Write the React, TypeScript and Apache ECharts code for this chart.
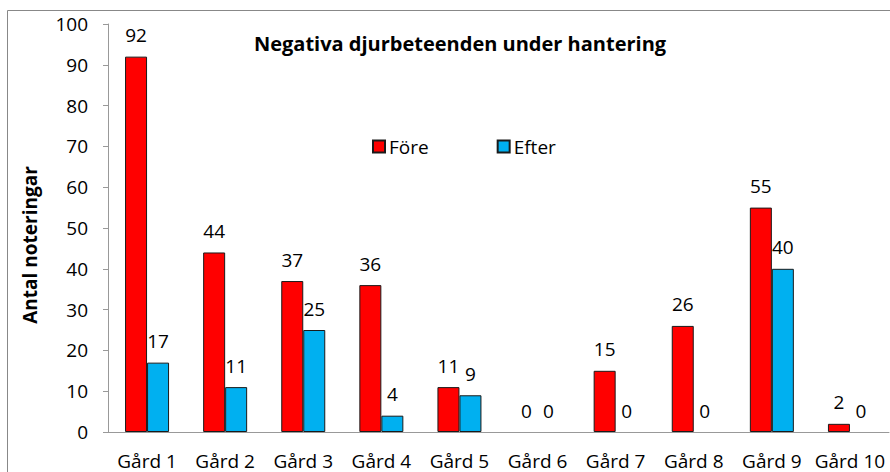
import React, { useEffect, useRef } from "react";
import * as echarts from "echarts";

const categories = ["Gård 1", "Gård 2", "Gård 3", "Gård 4", "Gård 5", "Gård 6", "Gård 7", "Gård 8", "Gård 9", "Gård 10"];
const fore = [92, 44, 37, 36, 11, 0, 15, 26, 55, 2];
const efter = [17, 11, 25, 4, 9, 0, 0, 0, 40, 0];
const seriesNames = ["Före", "Efter"];
const titleText = "Negativa djurbeteenden under hantering";
const yAxisTitle = "Antal noteringar";

const FONT = "'Open Sans', 'Noto Sans', sans-serif";

const toData = (arr: number[]) =>
  arr.map((v) =>
    v === 0 ? { value: v, itemStyle: { borderWidth: 0, color: "rgba(0,0,0,0)" } } : v
  );

export default function App() {
  const ref = useRef<HTMLDivElement>(null);
  useEffect(() => {
    if (!ref.current) return;
    const chart = echarts.init(ref.current, null, { renderer: "svg" });
    const labelStyle = {
      show: true,
      position: "top" as const,
      distance: 12,
      fontSize: 19,
      color: "#000",
      fontFamily: FONT,
    };
    chart.setOption({
      animation: false,
      backgroundColor: "#fff",
      textStyle: { fontFamily: FONT },
      title: {
        text: titleText,
        left: 455,
        textAlign: "center",
        top: 28,
        textStyle: { fontSize: 20, fontWeight: "bold", color: "#000", fontFamily: FONT },
      },
      legend: {
        left: 367,
        top: 132,
        itemWidth: 12,
        itemHeight: 12,
        itemGap: 68,
        icon: "rect",
        textStyle: { fontSize: 19, color: "#000", fontFamily: FONT, padding: [0, 0, 0, -1] },
        data: seriesNames,
      },
      grid: { left: 108, right: 1, top: 24, bottom: 40, containLabel: false },
      xAxis: {
        type: "category",
        data: categories,
        axisLine: { lineStyle: { color: "#999", width: 1 } },
        axisTick: { show: false },
        axisLabel: { fontSize: 19, color: "#000", margin: 19, fontFamily: FONT, interval: 0 },
      },
      yAxis: {
        type: "value",
        min: 0,
        max: 100,
        interval: 10,
        axisLine: { show: true, lineStyle: { color: "#999", width: 1 } },
        axisTick: { show: true, inside: false, length: 5, lineStyle: { color: "#999" } },
        splitLine: { show: false },
        axisLabel: { fontSize: 19, color: "#000", margin: 20, fontFamily: FONT },
      },
      graphic: [
        {
          type: "rect",
          shape: { x: 7.5, y: 10.5, width: 900, height: 500 },
          style: { fill: "none", stroke: "#888", lineWidth: 1 },
          silent: true,
        },
        {
          type: "text",
          x: 30,
          y: 245,
          rotation: Math.PI / 2,
          style: {
            text: yAxisTitle,
            fontSize: 19,
            fontWeight: "bold",
            fill: "#000",
            fontFamily: FONT,
            align: "center",
            verticalAlign: "middle",
          },
        },
      ],
      series: [
        {
          name: seriesNames[0],
          type: "bar",
          data: toData(fore),
          barWidth: 22,
          barGap: "0%",
          itemStyle: { color: "#FF0000", borderColor: "#1a1a1a", borderWidth: 1 },
          label: labelStyle,
        },
        {
          name: seriesNames[1],
          type: "bar",
          data: toData(efter),
          barWidth: 22,
          itemStyle: { color: "#00B0F0", borderColor: "#1a1a1a", borderWidth: 1 },
          label: labelStyle,
        },
      ],
    });
    return () => chart.dispose();
  }, []);
  return (
    <div
      ref={ref}
      style={{ position: "fixed", left: 0, top: 0, width: 890, height: 472 }}
    />
  );
}
